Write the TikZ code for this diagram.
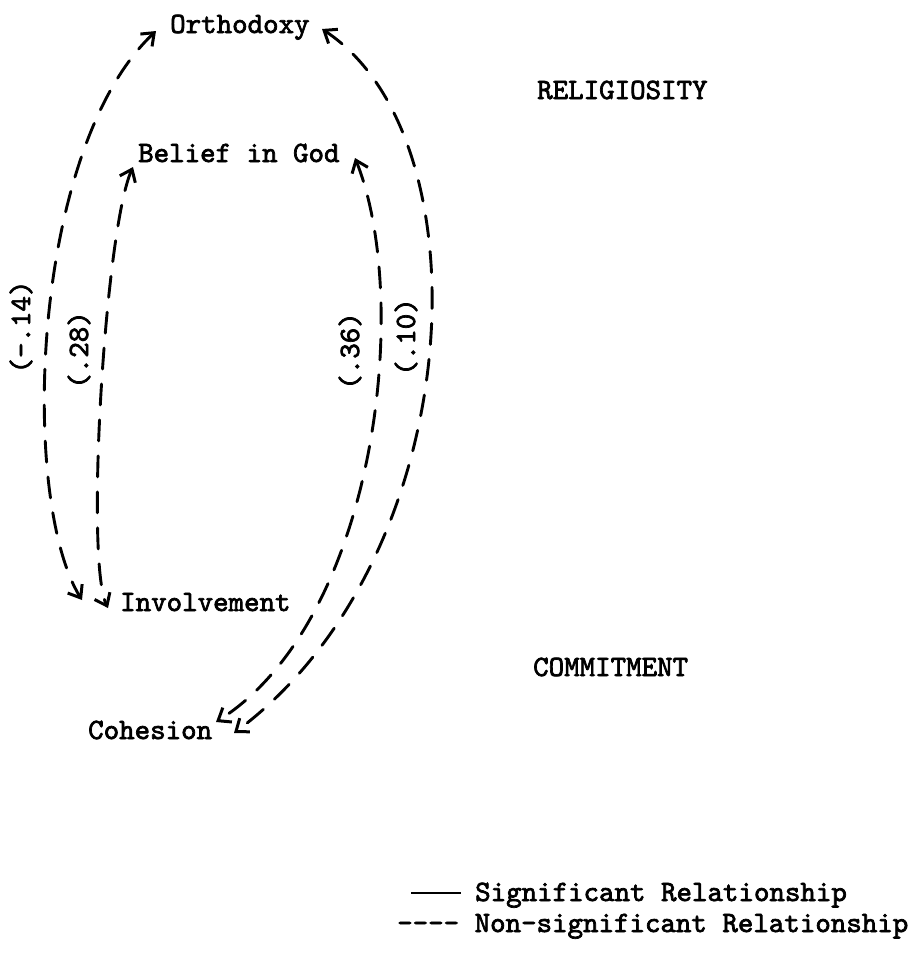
\documentclass[tikz,border=0pt]{standalone}
\usepackage{fontspec}
\setmonofont[FakeBold=2.4]{lmmono10-regular.otf}
\usetikzlibrary{arrows.meta}
\tikzset{
  txt/.style={font=\ttfamily\fontsize{29.5}{33}\selectfont, inner sep=0pt, anchor=base west},
  coef/.style={font=\ttfamily\fontsize{29.5}{33}\selectfont, inner sep=0pt, rotate=90, anchor=center},
  tipx/.tip={Straight Barb[length=11pt,width=17pt,line width=3pt]},
  rel/.style={line width=2.9pt, dash pattern=on 21pt off 15pt, line cap=round, tipx-tipx},
}
\begin{document}
\begin{tikzpicture}[x=1pt,y=-1pt]
\useasboundingbox[fill=white] (0,0) rectangle (918,954);

% concept nodes
\node[txt] (orth) at (170,33) {Orthodoxy};
\node[txt] (god)  at (138,162) {Belief in God};
\node[txt] (inv)  at (120,611) {Involvement};
\node[txt] (coh)  at (88,739) {Cohesion};
\node[txt] (rel)  at (537,99) {RELIGIOSITY};
\node[txt] (com)  at (533,676) {COMMITMENT};

% connector end points beside the nodes
\coordinate (o1) at (156,31);
\coordinate (o2) at (322,29);
\coordinate (g1) at (133,167);
\coordinate (g2) at (355,158);
\coordinate (i1) at (82,600);
\coordinate (i2) at (108,608);
\coordinate (c1) at (216,722);
\coordinate (c2) at (234,733);

% relationships
\draw[rel] (o1) .. controls (30,150) and (20,500) .. (i1);
\draw[rel] (g1) .. controls (105,230) and (85,560) .. (i2);
\draw[rel] (g2) .. controls (412,300) and (377,620) .. (c1);
\draw[rel] (o2) .. controls (490,140) and (467,560) .. (c2);

% coefficients
\node[coef] (k1) at (21,327) {(-.14)};
\node[coef] (k2) at (79,350) {(.28)};
\node[coef] (k3) at (350,351) {(.36)};
\node[coef] (k4) at (406,337) {(.10)};

% legend
\node[txt] (sig) at (475,901) {Significant Relationship};
\node[txt] (non) at (397,932) {---- Non-significant Relationship};
\coordinate (l1) at (411,893);
\coordinate (l2) at (461,893);
\draw[line width=1.6pt] (l1) -- (l2);
\end{tikzpicture}
\end{document}
